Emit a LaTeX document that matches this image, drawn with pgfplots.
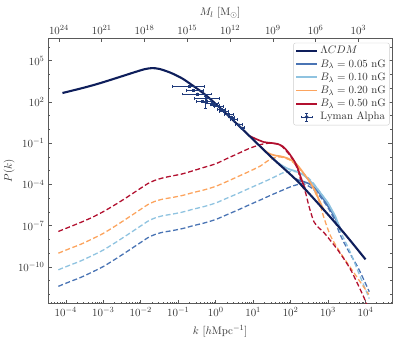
\documentclass[11pt,border=0pt]{standalone}
\usepackage{pgfplots}
\pgfplotsset{compat=1.18}

\definecolor{lcdm}{HTML}{0E1E5B}
\definecolor{bA}{HTML}{4A74B4}
\definecolor{bB}{HTML}{8FC3E0}
\definecolor{bC}{HTML}{FCA45E}
\definecolor{bD}{HTML}{B2102F}
\definecolor{lya}{HTML}{1F3A7A}

% minor ticks on k axis: 2..9 x 10^e
\def\minorx{}
\foreach \e in {-5,...,4}{\foreach \m in {2,...,9}{\xdef\minorx{\minorx\m e\e,}}}
\xdef\minorx{\minorx 9e5}

\pgfplotsset{
  dashed pmf/.style={line width=1.3pt, dash pattern=on 5pt off 2.6pt, smooth, tension=0.4},
  solid pmf/.style={line width=1.7pt, smooth, tension=0.4},
}

\begin{document}
\begin{tikzpicture}
\begin{axis}[
    name=main,
    scale only axis, width=344bp, height=266bp,
    xmode=log, ymode=log,
    xmin=3.4e-5, xmax=5.1e4, ymin=2.1e-13, ymax=4.5e6,
    xtickten={-4,...,4},
    minor xtick/.expanded={\minorx},
    ytickten={-10,-7,-4,-1,2,5},
    minor ytick={1e-12,1e-11,1e-9,1e-8,1e-6,1e-5,1e-3,1e-2,1e0,1e1,1e3,1e4,1e6},
    xtick pos=bottom, ytick pos=both,
    tick align=inside,
    major tick length=4bp, minor tick length=2bp,
    axis line style={black!65, line width=0.9pt},
    every tick/.style={black!65, line width=0.6pt},
    tick label style={black!80},
    label style={black!80},
    xlabel={$k\ \bigl[h\mathrm{Mpc}^{-1}\bigr]$},
    xlabel style={yshift=-1pt},
    ylabel={$P(k)$},
    ylabel style={yshift=-4pt},
    legend image code/.code={\draw[#1] (0cm,0cm) -- (0.75cm,0cm);},
    legend style={at={(0.993,0.982)}, anchor=north east, draw=black!20,
      rounded corners=2pt, fill=white, font=\fontsize{10.8}{13}\selectfont,
      inner sep=1.5pt, row sep=0pt, cells={anchor=west}, text=black!80},
]
\addlegendimage{lcdm, line width=2pt}
\addlegendentry{$\Lambda CDM$}
\addlegendimage{bA, line width=2pt}
\addlegendentry{$B_\lambda = 0.05$ nG}
\addlegendimage{bB, line width=2pt}
\addlegendentry{$B_\lambda = 0.10$ nG}
\addlegendimage{bC, line width=2pt}
\addlegendentry{$B_\lambda = 0.20$ nG}
\addlegendimage{bD, line width=2pt}
\addlegendentry{$B_\lambda = 0.50$ nG}
\addlegendimage{legend image code/.code={
    \draw[lya, line width=0.6pt] (0.19cm,0cm) -- (0.56cm,0cm)
      (0.375cm,-0.14cm) -- (0.375cm,0.14cm)
      (0.19cm,-0.05cm) -- (0.19cm,0.05cm) (0.56cm,-0.05cm) -- (0.56cm,0.05cm)
      (0.32cm,-0.14cm) -- (0.43cm,-0.14cm) (0.32cm,0.14cm) -- (0.43cm,0.14cm);
    \fill[lya] (0.375cm,0cm) circle (1.7pt);}}
\addlegendentry{Lyman Alpha}

% magnetic contributions alone (dashed)
\addplot[bA, dashed pmf, forget plot] coordinates {
 (6.31e-5,3.89e-12) (1.259e-4,8.32e-12) (2.512e-4,1.738e-11) (5.012e-4,4.17e-11)
 (1e-3,1.072e-10) (1.995e-3,3.39e-10) (3.981e-3,1.148e-9) (7.943e-3,3.98e-9)
 (1.585e-2,1.38e-8) (2.512e-2,2.40e-8) (3.981e-2,3.39e-8) (6.31e-2,4.17e-8)
 (0.1259,6.03e-8) (0.2512,1.0e-7) (0.5012,1.585e-7) (1.0,2.82e-7)
 (1.995,6.31e-7) (3.981,1.413e-6) (7.943,3.31e-6) (15.85,7.59e-6)
 (31.62,1.778e-5) (63.1,3.98e-5) (100,6.76e-5) (158.5,1.0e-4)
 (223.9,1.122e-4) (338.8,6.31e-5) (501.2,2.51e-5) (707.9,7.94e-6)
 (1000,2.0e-6) (1445,3.16e-7) (1995,3.16e-8) (2630,6.31e-9)
 (3981,7.94e-10) (6026,1.148e-10) (8913,1.259e-11) (12590,1.585e-12)
};
\addplot[bB, dashed pmf, forget plot] coordinates {
 (6.31e-5,6.17e-11) (1.259e-4,1.318e-10) (2.512e-4,2.75e-10) (5.012e-4,6.61e-10)
 (1e-3,1.698e-9) (1.995e-3,5.37e-9) (3.981e-3,1.82e-8) (7.943e-3,6.31e-8)
 (1.585e-2,2.19e-7) (2.512e-2,3.80e-7) (3.981e-2,5.37e-7) (6.31e-2,6.61e-7)
 (0.1259,9.55e-7) (0.2512,1.585e-6) (0.5012,2.51e-6) (1.0,4.47e-6)
 (1.995,1.0e-5) (3.981,2.24e-5) (7.943,5.25e-5) (15.85,1.202e-4)
 (31.62,2.82e-4) (63.1,7.08e-4) (100,8.91e-4) (158.5,7.94e-4)
 (251.2,4.47e-4) (416.9,1.122e-4) (776.2,1.122e-5) (1175,2.0e-6)
 (1585,3.16e-7) (2138,3.98e-8) (3981,1.072e-9) (6607,3.55e-11)
 (10965,1.259e-12) (12590,5.01e-13)
};
\addplot[bC, dashed pmf, forget plot] coordinates {
 (6.31e-5,1.0e-9) (1.259e-4,2.14e-9) (2.512e-4,4.47e-9) (5.012e-4,1.072e-8)
 (1e-3,2.75e-8) (1.995e-3,8.71e-8) (3.981e-3,2.95e-7) (7.943e-3,1.023e-6)
 (1.585e-2,3.55e-6) (2.512e-2,6.17e-6) (3.981e-2,8.71e-6) (6.31e-2,1.072e-5)
 (0.1259,1.55e-5) (0.2512,2.57e-5) (0.5012,4.07e-5) (1.0,7.24e-5)
 (1.995,1.622e-4) (3.981,3.80e-4) (7.943,8.91e-4) (15.85,2.24e-3)
 (23.99,5.01e-3) (35.48,8.32e-3) (53.7,1.0e-2) (100,5.62e-3)
 (186.2,1.122e-3) (338.8,1.259e-4) (562.3,7.08e-6) (776.2,3.80e-7)
 (1175,1.738e-8) (2138,1.072e-9) (4898,3.80e-11) (12300,1.0e-12)
};
\addplot[bD, dashed pmf, forget plot] coordinates {
 (6.31e-5,3.80e-8) (1.259e-4,8.13e-8) (2.512e-4,1.738e-7) (5.012e-4,3.98e-7)
 (1e-3,1.047e-6) (1.995e-3,3.16e-6) (3.981e-3,1.023e-5) (7.943e-3,3.55e-5)
 (1.585e-2,1.202e-4) (2.512e-2,2.09e-4) (3.981e-2,3.02e-4) (6.31e-2,3.98e-4)
 (0.1259,5.75e-4) (0.2512,1.0e-3) (0.5012,1.778e-3) (1.0,3.16e-3)
 (1.995,7.59e-3) (3.981,1.778e-2) (7.943,4.17e-2) (15.85,7.94e-2)
 (28.18,0.1) (53.7,7.08e-2) (100,1.122e-2) (151.4,1.413e-3)
 (204.2,8.0e-5) (251.2,2.51e-5) (309,2.63e-6) (416.9,2.0e-7)
 (562.3,7.08e-8) (776.2,3.16e-8) (1778,1.862e-9) (3981,6.61e-11)
 (9120,5.89e-13) (11220,1.259e-13)
};

% total spectra (solid)
\addplot[bA, solid pmf, forget plot] coordinates {
 (125.9,2.82e-4) (158.5,2.09e-4) (223.9,1.585e-4) (338.8,1.0e-4)
 (501.2,3.98e-5) (707.9,1.122e-5) (955,3.16e-6) (1259,1.0e-6)
 (1585,3.16e-7) (2138,6.03e-8)
};
\addplot[bB, solid pmf, forget plot] coordinates {
 (31.62,8.91e-3) (44.67,3.98e-3) (66.07,2.0e-3) (89.13,1.318e-3)
 (123,1.0e-3) (158.5,7.94e-4) (229.1,4.47e-4) (316.2,2.0e-4)
 (416.9,1.0e-4) (562.3,3.55e-5) (776.2,1.122e-5) (1000,4.47e-6)
 (1259,1.413e-6) (1585,4.47e-7) (1995,7.94e-8)
};
\addplot[bC, solid pmf, forget plot] coordinates {
 (15.85,0.055) (21.38,0.0263) (28.18,0.0166) (39.81,0.01259)
 (53.7,0.01122) (74.13,8.91e-3) (100,6.31e-3) (141.3,3.16e-3)
 (186.2,1.259e-3) (251.2,4.17e-4) (338.8,1.318e-4) (446.7,3.55e-5)
 (562.3,8.91e-6) (707.9,2.24e-6) (794.3,1.259e-6)
};
\addplot[bD, solid pmf, forget plot] coordinates {
 (7.943,0.339) (12.59,0.1905) (19.5,0.1202) (29.51,0.1047)
 (44.67,0.0891) (63.1,0.0562) (89.13,0.01995) (125.9,5.0e-3)
 (151.4,1.778e-3) (199.5,2.0e-4) (251.2,3.98e-5)
};

% Lambda CDM
\addplot[lcdm, line width=2.1pt, smooth, tension=0.5, forget plot] coordinates {
 (8.13e-5,446.7) (3.162e-4,1122) (8.51e-4,2399) (3.162e-3,7413)
 (6.61e-3,14130) (1.259e-2,23990) (1.995e-2,28840) (3.162e-2,25120)
 (6.31e-2,13180) (0.1259,5248) (0.2138,1995) (0.3981,602.6)
 (0.7413,151.4) (2.512,6.918) (8.511,0.2818) (31.62,8.91e-3)
 (151.4,1.778e-4) (631,2.63e-6) (2630,3.09e-8) (10000,3.55e-10)
};

% Lyman alpha data
\addplot[lya, only marks, mark=*, mark size=1.1pt, forget plot,
  error bars/.cd, x dir=both, x explicit, y dir=both, y explicit,
  error bar style={lya, line width=0.5pt},
  error mark options={lya, rotate=90, mark size=1.4pt}]
 coordinates {
 (0.2,1350) += (0.29,250) -= (0.132,250)
 (0.26,700) += (0.2,120) -= (0.1,120)
 (0.331,380) += (0.41,60) -= (0.2,60)
 (0.447,110) += (0.29,20) -= (0.15,20)
 (0.537,100) += (0.04,157) -= (0.04,64)
 (0.575,174) += (0.65,30) -= (0.31,30)
 (0.81,85) += (0.34,15) -= (0.24,15)
 (0.95,60) += (0.3,10) -= (0.25,10)
 (1.23,48) += (0.37,8) -= (0.33,8)
 (1.45,30) += (0.4,5) -= (0.35,5)
 (1.66,21) += (0.44,4) -= (0.41,4)
 (2.24,12) += (0.66,2) -= (0.54,2)
 (2.6,8) += (0.6,1.3) -= (0.5,1.3)
 (3.09,5.1) += (0.71,1) -= (0.69,1)
 (4.17,2.2) += (0.83,0.4) -= (0.87,0.4)
 (5.1,1.3) += (0.8,0.25) -= (0.7,0.25)
};
\end{axis}

% mass scale on top
\begin{axis}[
    scale only axis, width=344bp, height=266bp,
    xmode=log, x dir=reverse,
    xmin=4.4, xmax=5.6e24, ymin=0, ymax=1,
    axis x line*=top, axis y line=none,
    xtickten={3,6,9,12,15,18,21,24},
    minor xtick={},
    tick align=inside,
    major tick length=4bp,
    axis line style={black!65, line width=0.9pt},
    every tick/.style={black!65, line width=0.6pt},
    tick label style={black!80},
    label style={black!80},
    xlabel={$M_l\ [\mathrm{M}_\odot]$},
    xlabel style={yshift=-1pt},
]
\end{axis}
% page frame with the reference's margins around the axis box
\path (main.south west) ++(-48bp,-38bp) rectangle ++(399bp,342bp);
\end{tikzpicture}
\end{document}
